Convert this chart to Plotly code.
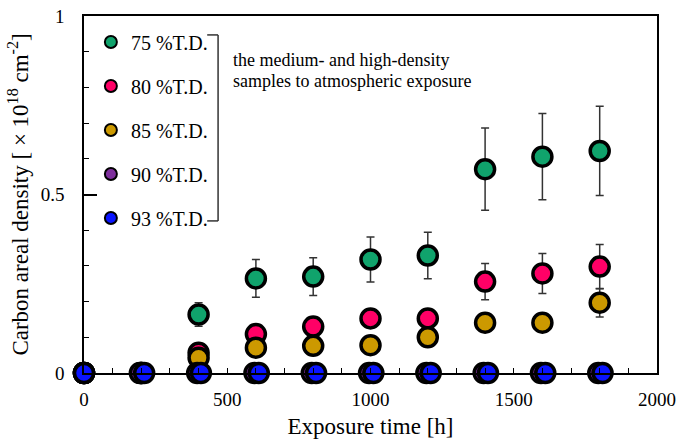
import plotly.graph_objects as go

# ---- data ----
labels = ["75 %T.D.", "80 %T.D.", "85 %T.D.", "90 %T.D.", "93 %T.D."]
colors = ["#10a36c", "#ff0066", "#cc9900", "#7e2f9c", "#0a14ff"]

t_main = [0, 200, 400, 600, 800, 1000, 1200, 1400, 1600, 1800]
t_90 = [0, 195, 395, 595, 795, 995, 1195, 1395, 1595, 1795]
t_93 = [0, 210, 408, 610, 810, 1010, 1210, 1410, 1610, 1810]

c75 = [0, 0, 0.164, 0.265, 0.270, 0.318, 0.329, 0.571, 0.606, 0.622]
e75 = [0, 0, 0.033, 0.053, 0.053, 0.063, 0.065, 0.115, 0.121, 0.125]
c80 = [0, 0, 0.057, 0.109, 0.130, 0.153, 0.153, 0.256, 0.279, 0.298]
e80 = [0, 0, 0.010, 0.015, 0.015, 0.025, 0.025, 0.051, 0.056, 0.062]
c85 = [0, 0, 0.043, 0.071, 0.076, 0.078, 0.100, 0.141, 0.141, 0.197]
e85 = [0, 0, 0.010, 0.010, 0.010, 0.010, 0.010, 0.010, 0.010, 0.040]
c90 = [0, 0, 0, 0, 0, 0, 0, 0, 0, 0]
c93 = [0, 0, 0, 0, 0, 0, 0, 0, 0, 0]

xs = [t_main, t_main, t_main, t_90, t_93]
ys = [c75, c80, c85, c90, c93]
es = [e75, e80, e85, None, None]

note_lines = ["the medium- and high-density", "samples to atmospheric exposure"]

FONT = "Liberation Serif"

fig = go.Figure()
for i in range(5):
    kw = {}
    if es[i] is not None:
        kw["error_y"] = dict(type="data", array=es[i], visible=True,
                             color="#333333", thickness=1.5, width=4)
    fig.add_trace(go.Scatter(
        x=xs[i], y=ys[i], mode="markers", name=labels[i],
        legendgroup=f"g{i}",
        marker=dict(size=19, color=colors[i], line=dict(color="black", width=3.5)),
        cliponaxis=False, **kw))

fig.update_layout(
    width=681, height=439,
    margin=dict(l=84, r=24, t=16, b=66, autoexpand=False),
    paper_bgcolor="white", plot_bgcolor="white",
    font=dict(family=FONT, size=19, color="black"),
    showlegend=True,
    legend=dict(x=0.012, y=0.982, xanchor="left", yanchor="top",
                bgcolor="rgba(0,0,0,0)", tracegroupgap=15,
                itemsizing="constant", font=dict(size=20, family=FONT)),
    xaxis=dict(range=[0, 2000], dtick=500, ticks="inside", ticklen=5,
               tickwidth=1.2, tickcolor="black", automargin=False,
               ticklabeloverflow="allow",
               minor=dict(dtick=100, ticks="inside", ticklen=5, tickwidth=1.2, tickcolor="black"),
               showline=True, linecolor="black", linewidth=1.5, mirror=True,
               showgrid=False, zeroline=False,
               tickfont=dict(size=19, family=FONT), ticklabelstandoff=8,
               title=dict(text="Exposure time [h]", font=dict(size=23, family=FONT), standoff=9)),
    yaxis=dict(range=[0, 1], tickvals=[0, 0.5, 1], ticktext=["0", "0.5", "1"],
               ticks="inside", ticklen=13, tickwidth=1.5, tickcolor="black", automargin=False,
               ticklabeloverflow="allow",
               minor=dict(dtick=0.1, ticks="inside", ticklen=5, tickwidth=1.2, tickcolor="black"),
               showline=True, linecolor="black", linewidth=1.5, mirror=True,
               showgrid=False, zeroline=False,
               tickfont=dict(size=19, family=FONT), ticklabelstandoff=14,
               title=dict(text="Carbon areal density [ × 10<sup>18</sup> cm<sup>-2</sup>]",
                          font=dict(size=23, family=FONT), standoff=6)),
)

# bracket around the legend
bx0, bx1, by0, by1 = 0.215, 0.234, 0.947, 0.426
for (x0, y0, x1, y1) in [(bx0, by0, bx1, by0), (bx1, by0, bx1, by1), (bx0, by1, bx1, by1)]:
    fig.add_shape(type="line", xref="paper", yref="paper", x0=x0, y0=y0, x1=x1, y1=y1,
                  line=dict(color="#333333", width=1.5))

for line, yy in zip(note_lines, [0.877, 0.818]):
    fig.add_annotation(xref="paper", yref="paper", x=0.2565, y=yy, xanchor="left", yanchor="middle",
                       text=line, showarrow=False, align="left",
                       font=dict(size=18, family=FONT))

fig.write_html("out.html", config={"displayModeBar": False},
               post_script="document.body.style.margin='0px';")
